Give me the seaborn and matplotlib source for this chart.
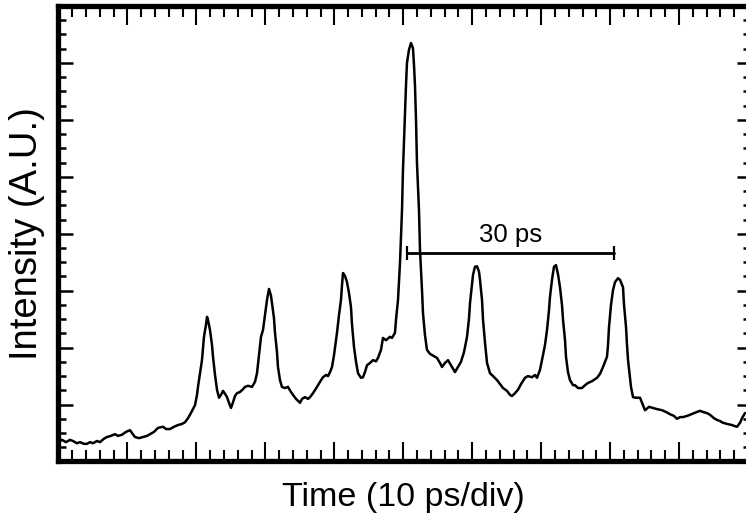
import matplotlib
matplotlib.use("Agg")
import matplotlib.pyplot as plt
from matplotlib.ticker import MultipleLocator, NullFormatter
import seaborn as sns

# streak trace: time in ps (10 ps per division), intensity in divisions
time_ps = [
    0.22, 0.51, 1.09, 1.67, 2.10, 2.68, 3.12, 3.70, 4.13, 4.57,
    5.00, 5.58, 6.02, 6.60, 7.03, 7.61, 8.19, 8.63, 9.21, 9.79,
    10.37, 10.66, 11.09, 11.68, 12.26, 12.84, 13.27, 13.85, 14.43, 15.16,
    15.59, 16.17, 16.75, 17.33, 17.91, 18.35, 18.78, 19.07, 19.51, 19.80,
    20.09, 20.23, 20.52, 20.81, 20.96, 21.10, 21.39, 21.54, 21.68, 21.97,
    22.26, 22.41, 22.70, 22.99, 23.28, 23.57, 23.86, 24.15, 24.44, 24.73,
    25.02, 25.31, 25.60, 25.89, 26.32, 26.76, 27.05, 27.48, 28.06, 28.50,
    28.79, 29.08, 29.37, 29.66, 29.95, 30.24, 30.53, 30.82, 30.96, 31.25,
    31.40, 31.69, 31.83, 32.12, 32.41, 32.85, 33.28, 33.72, 34.01, 34.45,
    35.03, 35.32, 35.75, 36.19, 36.48, 36.91, 37.49, 37.93, 38.36, 38.80,
    39.09, 39.38, 39.67, 39.96, 40.39, 40.68, 40.97, 41.12, 41.26, 41.55,
    41.84, 42.13, 42.42, 42.57, 42.86, 43.15, 43.44, 43.87, 44.16, 44.45,
    44.74, 45.18, 45.61, 46.05, 46.34, 46.77, 47.06, 47.50, 48.08, 48.37,
    48.80, 48.95, 49.24, 49.53, 49.82, 49.96, 50.25, 50.40, 50.54, 50.83,
    51.12, 51.41, 51.56, 51.70, 51.85, 51.99, 52.28, 52.43, 52.72, 52.86,
    53.15, 53.44, 53.88, 54.17, 54.60, 54.89, 55.33, 55.62, 56.05, 56.49,
    56.93, 57.50, 57.94, 58.37, 58.81, 59.25, 59.54, 59.68, 59.97, 60.12,
    60.40, 60.70, 60.99, 61.13, 61.42, 61.57, 61.86, 62.15, 62.58, 63.02,
    63.60, 64.03, 64.47, 65.05, 65.48, 65.77, 66.21, 66.64, 67.08, 67.66,
    68.09, 68.67, 69.11, 69.40, 69.83, 70.12, 70.56, 70.85, 71.14, 71.28,
    71.57, 71.86, 72.15, 72.44, 72.73, 73.02, 73.17, 73.46, 73.60, 73.89,
    74.18, 74.62, 74.91, 75.34, 75.92, 76.36, 76.80, 77.37, 78.10, 78.54,
    78.97, 79.26, 79.55, 79.70, 79.84, 80.13, 80.42, 80.71, 81.15, 81.44,
    81.87, 82.02, 82.31, 82.45, 82.60, 82.89, 83.03, 83.32, 83.76, 84.34,
    84.77, 85.06, 85.64, 86.22, 86.80, 87.53, 88.11, 88.69, 89.27, 89.70,
    90.14, 90.57, 91.15, 91.59, 92.17, 92.60, 93.04, 93.47, 94.05, 94.49,
    95.07, 95.50, 95.94, 96.37, 96.95, 97.68, 98.11, 98.40, 98.84, 99.13,
    99.56,
]
intensity = [
    0.36, 0.38, 0.34, 0.38, 0.36, 0.32, 0.34, 0.31, 0.31, 0.34,
    0.32, 0.36, 0.34, 0.40, 0.43, 0.45, 0.48, 0.45, 0.47, 0.52,
    0.55, 0.50, 0.43, 0.41, 0.43, 0.45, 0.48, 0.52, 0.59, 0.61,
    0.57, 0.57, 0.61, 0.64, 0.66, 0.69, 0.76, 0.82, 0.92, 0.99,
    1.17, 1.31, 1.55, 1.78, 1.99, 2.19, 2.40, 2.54, 2.49, 2.31,
    2.05, 1.84, 1.52, 1.26, 1.12, 1.17, 1.24, 1.19, 1.13, 1.03,
    0.94, 1.04, 1.15, 1.20, 1.22, 1.27, 1.31, 1.33, 1.31, 1.40,
    1.55, 1.87, 2.19, 2.31, 2.57, 2.84, 3.03, 2.91, 2.78, 2.52,
    2.26, 1.92, 1.66, 1.43, 1.31, 1.29, 1.31, 1.22, 1.17, 1.10,
    1.03, 1.10, 1.13, 1.10, 1.13, 1.20, 1.31, 1.40, 1.48, 1.52,
    1.50, 1.57, 1.66, 1.87, 2.26, 2.57, 2.84, 3.10, 3.31, 3.26,
    3.15, 2.96, 2.71, 2.40, 2.01, 1.75, 1.55, 1.47, 1.48, 1.57,
    1.69, 1.73, 1.78, 1.76, 1.82, 1.96, 2.17, 2.13, 2.19, 2.17,
    2.26, 2.49, 2.84, 3.49, 4.42, 5.12, 6.12, 6.61, 7.00, 7.23,
    7.35, 7.26, 6.96, 6.61, 6.00, 5.24, 4.42, 3.71, 3.01, 2.61,
    2.22, 1.96, 1.89, 1.87, 1.84, 1.82, 1.73, 1.66, 1.73, 1.78,
    1.69, 1.57, 1.66, 1.75, 1.92, 2.19, 2.52, 2.78, 3.10, 3.28,
    3.42, 3.43, 3.33, 3.19, 2.84, 2.49, 2.08, 1.73, 1.55, 1.50,
    1.43, 1.36, 1.29, 1.24, 1.17, 1.15, 1.20, 1.26, 1.36, 1.47,
    1.50, 1.48, 1.52, 1.47, 1.61, 1.78, 2.05, 2.31, 2.66, 2.89,
    3.19, 3.42, 3.45, 3.29, 3.06, 2.75, 2.49, 2.13, 1.84, 1.57,
    1.43, 1.34, 1.34, 1.29, 1.29, 1.34, 1.38, 1.41, 1.47, 1.54,
    1.66, 1.75, 1.84, 2.05, 2.36, 2.75, 3.01, 3.15, 3.22, 3.19,
    3.06, 2.75, 2.36, 2.05, 1.78, 1.47, 1.31, 1.13, 1.12, 1.12,
    0.99, 0.90, 0.96, 0.94, 0.92, 0.90, 0.87, 0.83, 0.80, 0.75,
    0.78, 0.78, 0.80, 0.82, 0.85, 0.87, 0.89, 0.87, 0.85, 0.82,
    0.76, 0.73, 0.71, 0.68, 0.66, 0.64, 0.62, 0.61, 0.68, 0.76,
    0.85,
]

# 30 ps scale bar
bar_start = 50.6
bar_end = 80.6
bar_level = 3.66
bar_label = "30 ps"

sns.set_style("ticks")
plt.rcParams["font.family"] = ["Liberation Sans", "DejaVu Sans"]

fig = plt.figure(figsize=(7.46, 5.13), dpi=100)
ax = fig.add_axes([0.0784, 0.1004, 0.9243, 0.8879])

sns.lineplot(x=time_ps, y=intensity, sort=False, estimator=None,
             color="black", linewidth=1.8, ax=ax)

ax.plot([bar_start, bar_end], [bar_level, bar_level], color="black",
        linewidth=2, marker="|", markersize=10, markeredgewidth=1.6)
ax.text((bar_start + bar_end) / 2, bar_level + 0.2, bar_label,
        ha="center", va="baseline", fontsize=18.5, color="black")

ax.set_xlim(0, 100)
ax.set_ylim(0, 8)

for side in ["left", "right", "top", "bottom"]:
    ax.spines[side].set_linewidth(3.8)
    ax.spines[side].set_color("black")

ax.xaxis.set_major_locator(MultipleLocator(10))
ax.xaxis.set_minor_locator(MultipleLocator(2))
ax.yaxis.set_major_locator(MultipleLocator(1))
ax.yaxis.set_minor_locator(MultipleLocator(0.25))
ax.xaxis.set_major_formatter(NullFormatter())
ax.yaxis.set_major_formatter(NullFormatter())

ax.tick_params(axis="x", which="both", direction="in", top=True, bottom=True,
               width=1.5, color="black")
ax.tick_params(axis="x", which="major", length=14)
ax.tick_params(axis="x", which="minor", length=8)
ax.tick_params(axis="y", which="both", direction="in", left=True, right=False,
               width=1.8, color="black")
ax.tick_params(axis="y", which="major", length=10.5)
ax.tick_params(axis="y", which="minor", length=6)

# right side has shorter ticks
sec = ax.secondary_yaxis("right")
sec.yaxis.set_major_locator(MultipleLocator(1))
sec.yaxis.set_minor_locator(MultipleLocator(0.25))
sec.yaxis.set_major_formatter(NullFormatter())
sec.spines["right"].set_linewidth(3.8)
sec.spines["right"].set_color("black")
sec.tick_params(which="both", direction="in", width=1.8, color="black")
sec.tick_params(which="major", length=8)
sec.tick_params(which="minor", length=3.5)

ax.set_xlabel("Time (10 ps/div)", fontsize=24.5, labelpad=11, color="black")
ax.set_ylabel("Intensity (A.U.)", fontsize=27.5, labelpad=6, color="black")

fig.savefig("out.png", dpi=100)
plt.close(fig)
